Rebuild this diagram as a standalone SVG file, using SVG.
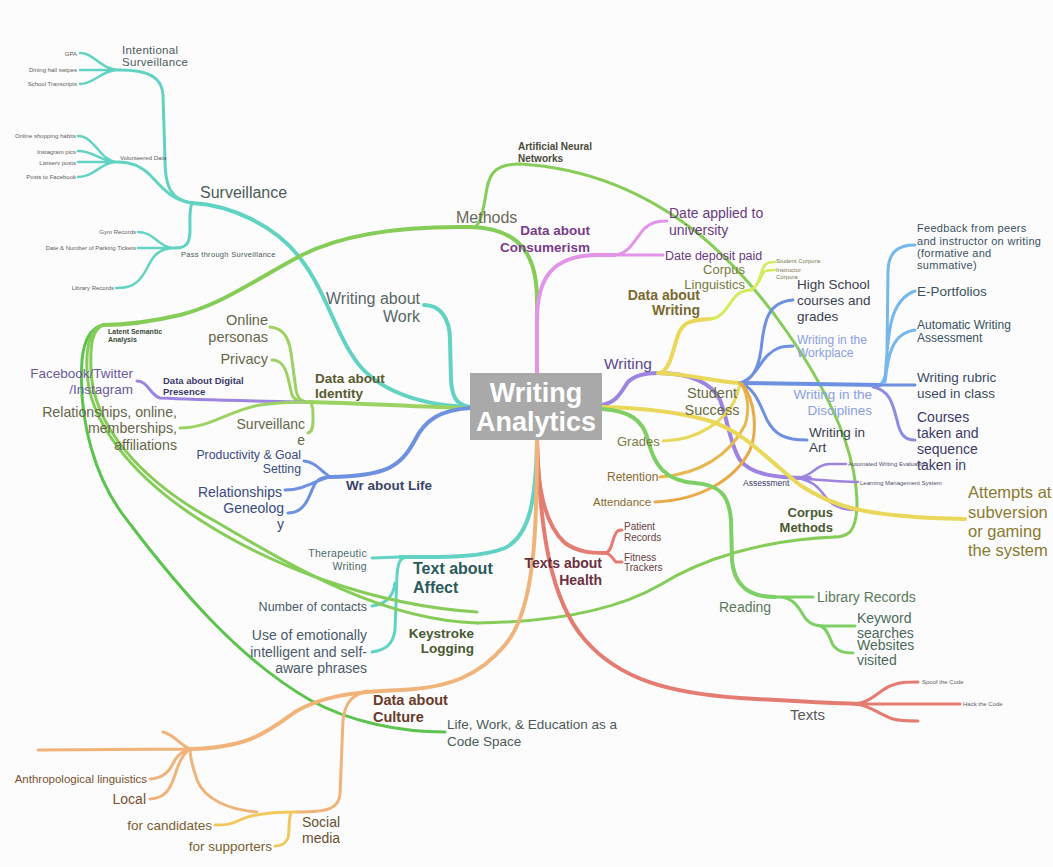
<svg xmlns="http://www.w3.org/2000/svg" width="1053" height="867" viewBox="0 0 1053 867">
<style>
.c{fill:none;stroke-linecap:round;stroke-linejoin:round}
.w4{stroke-width:4}.w3{stroke-width:3}.w2{stroke-width:2.5}
.teal{stroke:#62d3c3}.grn{stroke:#86cc58}.lgrn{stroke:#5cc44e}.igrn{stroke:#9cd262}.rgrn{stroke:#7ed066}
.pur{stroke:#9c84e0}.lil{stroke:#e394e8}.blu{stroke:#6d90e0}.yel{stroke:#e9d85a}.lime{stroke:#d6ea5e}
.org{stroke:#f0b47a}.ret{stroke:#e8b850}.att{stroke:#e8aa48}.red{stroke:#e47c72}.lblu{stroke:#76b8ea}
.cpur{stroke:#8c8ce0}.smy{stroke:#f0c85c}
text{font-family:"Liberation Sans",Arial,sans-serif;fill:#505a5a}
.b{font-weight:bold}.e{text-anchor:end}.m{text-anchor:middle}
.t6{font-size:6px;fill:#606060}
</style>
<rect width="1053" height="867" fill="#fcfcfc"/>
<g id="connectors">
<!-- teal -->
<path class="c w4 teal" d="M192,203 C230,205 275,225 300,258 C325,290 335,330 352,355 C370,385 410,405 470,407"/>
<path class="c w3 teal" d="M192,203 C170,200 165,185 165,160 L163,95 C162,78 150,70 120,70"/>
<path class="c w2 teal" d="M120,70 C100,70 95,53 80,53 M120,70 L80,70 M120,70 C100,70 95,84 80,84"/>
<path class="c w3 teal" d="M192,203 C170,200 160,185 150,175 C140,165 130,162 118,162"/>
<path class="c w2 teal" d="M118,162 C100,162 95,136 78,136 M118,162 C100,162 95,151 78,151 M118,162 L78,162 M118,162 C100,162 95,177 78,177"/>
<path class="c w3 teal" d="M192,203 C189,210 190,220 190,230 C190,244 186,248 175,248"/>
<path class="c w2 teal" d="M175,248 C158,248 155,232 138,232 M175,248 L138,248 M175,248 C157,248 152,258 146,270 C138,285 130,288 116,288"/>
<path class="c w4 teal" d="M470,407 C455,405 452,395 451,380 L450,340 C450,318 440,305 424,305"/>
<path class="c w4 teal" d="M537,440 C536,500 530,535 505,548 C480,558 440,557 400,557"/>
<path class="c w3 teal" d="M400,557 L372,558 M372,606 C385,604 393,598 395,583 M372,652 C385,650 393,645 395,630 L397,575 C398,562 400,558 407,557"/>
<!-- identity -->
<path class="c w4 igrn" d="M470,408 C420,407 360,403 310,402"/>
<path class="c w3 igrn" d="M270,327 C285,328 290,340 292,360 L296,390 C298,400 302,402 310,402"/>
<path class="c w3 igrn" d="M272,360 C280,360 285,365 288,378 L292,395 C295,401 300,402 310,402"/>
<path class="c w3 pur" d="M137,381 C148,381 150,395 160,398 C200,400 260,401 305,402"/>
<path class="c w3 igrn" d="M180,428 C210,428 230,410 260,405 C280,402 300,402 310,402"/>
<path class="c w3 igrn" d="M310,402 C313,405 313,410 313,420 C313,428 312,432 308,433"/>
<!-- life -->
<path class="c w4 blu" d="M470,408 C440,410 425,420 415,440 C400,468 385,476 330,477"/>
<path class="c w3 blu" d="M304,461 C315,462 320,470 330,477 M285,490 C305,490 315,480 330,477 M288,513 C303,513 308,500 312,490 C316,480 320,477 330,477"/>
<!-- methods -->
<path class="c w4 grn" d="M537,373 L537,300 C537,255 520,228 470,227 C400,226 340,235 300,256 C250,283 220,305 180,315 C150,322 120,325 103,325"/>
<path class="c w3 grn" d="M475,227 C482,222 484,205 487,188 C490,172 497,164 520,164"/>
<path class="c w3 grn" d="M520,164 C590,168 650,195 700,235 C760,285 820,370 845,440 C860,485 860,520 850,532 C845,536 840,537 835,537"/>
<path class="c w3 grn" d="M835,537 C760,540 700,560 660,585 C620,608 560,622 477,623"/>
<path class="c w3 lgrn" d="M103,325 C90,328 84,340 82,360 C78,420 95,480 127,520 C180,590 240,660 310,700 C350,722 400,732 445,732"/>
<path class="c w3 grn" d="M103,325 C90,330 86,345 87,370 C88,420 130,475 200,520 C270,565 370,605 477,612"/>
<path class="c w3 grn" d="M103,325 C92,330 90,345 91,370 C93,425 140,480 213,520 C290,565 380,620 477,623"/>
<!-- consumerism -->
<path class="c w4 lil" d="M537,373 L537,320 C537,275 555,256 595,255 L615,255"/>
<path class="c w3 lil" d="M615,255 C630,254 635,238 645,228 C652,222 658,221 667,221 M615,255 L663,255"/>
<!-- writing -->
<path class="c w4 pur" d="M602,405 C618,402 622,390 628,382 C635,375 645,373 658,373 C690,373 712,383 720,400 C728,420 730,445 740,460 C750,473 770,478 810,478"/>
<path class="c w2 pur" d="M795,478 C812,478 815,464 830,464 L846,464 M795,478 C820,480 840,482 858,482 M795,478 C815,480 820,490 828,500 C835,508 845,510 857,510"/>
<path class="c w4 yel" d="M660,373 C670,370 673,350 678,335 C683,322 690,320 710,319"/>
<path class="c w3 lime" d="M710,319 C725,318 730,300 738,294 C742,291 746,290 752,290"/>
<path class="c w2 lime" d="M750,290 C758,288 760,275 763,268 C766,262 770,262 775,262 M750,290 C758,288 761,276 764,272 C766,270 770,270 775,270"/>
<path class="c w4 yel" d="M658,373 C690,374 710,381 740,383"/>
<path class="c w4 blu" d="M740,383 L880,385"/>
<path class="c w3 blu" d="M740,383 C752,380 758,370 761,350 C764,320 768,302 793,300 M740,383 C755,378 760,362 768,355 C775,348 782,346 793,346 M740,383 C755,388 760,405 767,420 C775,435 785,440 807,440"/>
<path class="c w3 lblu" d="M880,385 C886,380 887,370 887,350 L888,270 C889,250 900,245 915,245 M885,380 C888,330 890,300 915,291 M885,382 C888,355 892,333 915,330"/>
<path class="c w3 blu" d="M880,385 L915,385"/>
<path class="c w3 cpur" d="M873,387 C890,390 893,405 897,420 C900,435 905,440 915,440"/>
<path class="c w3 yel" d="M663,441 C700,440 725,420 735,400 C738,392 740,386 740,383"/>
<path class="c w3 ret" d="M660,477 C700,474 730,455 745,425 C750,410 748,392 740,383"/>
<path class="c w3 att" d="M655,502 C700,500 735,480 750,450 C758,430 755,400 742,384"/>
<path class="c w4 yel" d="M602,407 C640,408 680,412 710,421 C745,432 770,462 800,485 C830,505 860,517 965,519"/>
<!-- reading -->
<path class="c w4 rgrn" d="M602,409 C630,411 643,420 648,440 C654,465 665,481 695,483 C720,485 729,495 731,520 L732,560 C734,585 748,597 775,597"/>
<path class="c w3 rgrn" d="M775,597 L813,597 M780,597 C795,598 800,610 805,618 C810,624 815,626 825,626 L855,626 M820,626 C828,628 830,640 833,645 C838,652 845,653 853,653"/>
<!-- health / texts -->
<path class="c w4 red" d="M537,440 C537,490 545,525 565,543 C578,552 590,553 605,553"/>
<path class="c w3 red" d="M605,553 C612,552 612,540 615,535 C617,530 619,530 622,530 M605,553 C612,554 613,560 616,562 L622,562"/>
<path class="c w4 red" d="M537,440 C540,530 550,600 585,640 C620,680 670,693 740,698 C790,701 830,703 860,704"/>
<path class="c w3 red" d="M855,704 C870,703 880,690 890,686 C900,682 905,682 918,682 M860,704 L960,704 M855,704 C870,705 880,715 893,719 C900,721 905,721 918,721"/>
<!-- culture -->
<path class="c w4 org" d="M537,440 C537,530 535,610 505,645 C480,675 450,688 400,690 C350,692 320,697 295,712 C270,730 250,748 190,749"/>
<path class="c w3 org" d="M367,691 C350,695 345,705 343,720 L340,795 C338,808 330,812 297,812"/>
<path class="c w3 org" d="M257,812 C230,810 205,800 197,780 C192,765 190,755 190,749"/>
<path class="c w3 smy" d="M297,812 C270,812 250,815 240,820 C230,825 225,825 215,825 M291,813 C288,820 290,830 288,838 C285,845 280,846 275,846"/>
<path class="c w3 org" d="M190,749 L38,750 M190,749 C180,745 175,735 163,732 M150,779 C165,778 170,770 175,760 C180,752 185,750 190,749 M150,799 C165,798 170,790 175,775 C180,758 185,752 190,749"/>
</g>
<g id="writing-analytics"><rect x="470" y="373" width="132" height="67" fill="#a9a9a9"/><text class="b m" x="536" y="402" font-size="27" style="fill:#fff">Writing</text><text class="b m" x="536" y="431" font-size="27" style="fill:#fff">Analytics</text></g>
<g id="surveillance"><text x="200" y="198" font-size="16" style="fill:#4d5a5a">Surveillance</text></g>
<g id="intentional-surveillance"><text x="122" y="54" font-size="11.5" letter-spacing="0.3" style="fill:#4d5a5a">Intentional</text><text x="122" y="66" font-size="11.5" letter-spacing="0.3" style="fill:#4d5a5a">Surveillance</text></g>
<g id="gpa"><text class="t6 e" x="77" y="56">GPA</text></g>
<g id="dining"><text class="t6 e" x="77" y="72">Dining hall swipes</text></g>
<g id="transcripts"><text class="t6 e" x="77" y="86">School Transcripts</text></g>
<g id="volunteered-data"><text class="t6" x="120" y="160">Volunteered Data</text></g>
<g id="online-shopping"><text class="t6 e" x="76" y="138">Online shopping habits</text></g>
<g id="instagram-pics"><text class="t6 e" x="76" y="154">Instagram pics</text></g>
<g id="listserv"><text class="t6 e" x="76" y="165">Listserv posts</text></g>
<g id="posts-facebook"><text class="t6 e" x="76" y="179">Posts to Facebook</text></g>
<g id="pass-through"><text x="181" y="257" font-size="7.5" letter-spacing="0.3" style="fill:#4d5a5a">Pass through Surveillance</text></g>
<g id="gym"><text class="t6 e" x="136" y="234">Gym Records</text></g>
<g id="parking"><text class="t6 e" x="136" y="250">Date &amp; Number of Parking Tickets</text></g>
<g id="library-surv"><text class="t6 e" x="114" y="290">Library Records</text></g>
<g id="writing-about-work"><text class="e" x="420" y="304" font-size="16" style="fill:#5a6666">Writing about</text><text class="e" x="420" y="322" font-size="16" style="fill:#5a6666">Work</text></g>
<g id="data-identity"><text class="b" x="315" y="383" font-size="13.5" style="fill:#5a5a30">Data about</text><text class="b" x="315" y="398" font-size="13.5" style="fill:#5a5a30">Identity</text></g>
<g id="online-personas"><text class="e" x="268" y="325" font-size="14.5" style="fill:#66664a">Online</text><text class="e" x="268" y="342" font-size="14.5" style="fill:#66664a">personas</text></g>
<g id="privacy"><text class="e" x="268" y="364" font-size="14.5" style="fill:#66664a">Privacy</text></g>
<g id="digital-presence"><text class="b" x="163" y="384" font-size="9.5" style="fill:#3a3a6a">Data about Digital</text><text class="b" x="163" y="395" font-size="9.5" style="fill:#3a3a6a">Presence</text></g>
<g id="facebook-twitter"><text class="e" x="133" y="378" font-size="13.5" style="fill:#6a5a9a">Facebook/Twitter</text><text class="e" x="133" y="394" font-size="13.5" style="fill:#6a5a9a">/Instagram</text></g>
<g id="relationships-online"><text class="e" x="177" y="417" font-size="14.2" style="fill:#66664a">Relationships, online,</text><text class="e" x="177" y="433" font-size="14.2" style="fill:#66664a">memberships,</text><text class="e" x="177" y="450" font-size="14.2" style="fill:#66664a">affiliations</text></g>
<g id="surveillance-identity"><text class="e" x="305" y="429" font-size="14" style="fill:#66664a">Surveillanc</text><text class="e" x="305" y="445" font-size="14" style="fill:#66664a">e</text></g>
<g id="wr-about-life"><text class="b" x="346" y="490" font-size="13.5" style="fill:#3a4466">Wr about Life</text></g>
<g id="productivity"><text class="e" x="301" y="459" font-size="12.3" style="fill:#3a4a80">Productivity &amp; Goal</text><text class="e" x="301" y="473" font-size="12.3" style="fill:#3a4a80">Setting</text></g>
<g id="relationships-life"><text class="e" x="282" y="497" font-size="14" style="fill:#3a4a80">Relationships</text></g>
<g id="geneology"><text class="e" x="284" y="513" font-size="14" style="fill:#3a4a80">Geneolog</text><text class="e" x="284" y="529" font-size="14" style="fill:#3a4a80">y</text></g>
<g id="methods"><text x="456" y="223" font-size="16" style="fill:#6a6a5a">Methods</text></g>
<g id="ann"><text class="b" x="518" y="150" font-size="10" style="fill:#4a4a3a">Artificial Neural</text><text class="b" x="518" y="162" font-size="10" style="fill:#4a4a3a">Networks</text></g>
<g id="lsa"><text class="b" x="108" y="334" font-size="7" style="fill:#3a4a3a">Latent Semantic</text><text class="b" x="108" y="342" font-size="7" style="fill:#3a4a3a">Analysis</text></g>
<g id="data-consumerism"><text class="b e" x="590" y="235" font-size="13.5" style="fill:#7a3a8a">Data about</text><text class="b e" x="590" y="252" font-size="13.5" style="fill:#7a3a8a">Consumerism</text></g>
<g id="date-applied"><text x="669" y="218" font-size="14" style="fill:#6a3a80">Date applied to</text><text x="669" y="235" font-size="14" style="fill:#6a3a80">university</text></g>
<g id="date-deposit"><text x="665" y="260" font-size="12.5" style="fill:#6a3a80">Date deposit paid</text></g>
<g id="writing"><text x="604" y="369" font-size="15.5" style="fill:#5a4a8a">Writing</text></g>
<g id="data-writing"><text class="b e" x="700" y="300" font-size="14" style="fill:#7a6a30">Data about</text><text class="b e" x="700" y="315" font-size="14" style="fill:#7a6a30">Writing</text></g>
<g id="corpus-linguistics"><text class="e" x="745" y="274" font-size="13" style="fill:#7a7a40">Corpus</text><text class="e" x="745" y="289" font-size="13" style="fill:#7a7a40">Linguistics</text></g>
<g id="student-corpora"><text class="t6" x="776" y="263" style="fill:#7a7a50">Student Corpora</text></g>
<g id="instructor-corpora"><text class="t6" x="776" y="272" style="fill:#7a7a50">Instructor</text><text class="t6" x="776" y="279" style="fill:#7a7a50">Corpora</text></g>
<g id="student-success"><text class="m" x="712" y="398" font-size="14.5" style="fill:#6a6a40">Student</text><text class="m" x="712" y="415" font-size="14.5" style="fill:#6a6a40">Success</text></g>
<g id="high-school"><text x="797" y="289" font-size="13.5" style="fill:#3a4050">High School</text><text x="797" y="305" font-size="13.5" style="fill:#3a4050">courses and</text><text x="797" y="321" font-size="13.5" style="fill:#3a4050">grades</text></g>
<g id="workplace"><text x="797" y="344" font-size="12" style="fill:#8a9ee0">Writing in the</text><text x="797" y="357" font-size="12" style="fill:#8a9ee0">Workplace</text></g>
<g id="disciplines"><text class="e" x="872" y="399" font-size="13.5" style="fill:#8a9ee0">Writing in the</text><text class="e" x="872" y="415" font-size="13.5" style="fill:#8a9ee0">Disciplines</text></g>
<g id="writing-art"><text x="809" y="437" font-size="13.5" style="fill:#3a4050">Writing in</text><text x="809" y="452" font-size="13.5" style="fill:#3a4050">Art</text></g>
<g id="feedback"><text x="917" y="232" font-size="11" letter-spacing="0.3" style="fill:#3a5060">Feedback from peers</text><text x="917" y="245" font-size="11" letter-spacing="0.3" style="fill:#3a5060">and instructor on writing</text><text x="917" y="257" font-size="11" letter-spacing="0.3" style="fill:#3a5060">(formative and</text><text x="917" y="269" font-size="11" letter-spacing="0.3" style="fill:#3a5060">summative)</text></g>
<g id="e-portfolios"><text x="917" y="296" font-size="13.5" style="fill:#3a5060">E-Portfolios</text></g>
<g id="automatic-assessment"><text x="917" y="329" font-size="12" style="fill:#3a5060">Automatic Writing</text><text x="917" y="342" font-size="12" style="fill:#3a5060">Assessment</text></g>
<g id="rubric"><text x="917" y="382" font-size="13.5" style="fill:#3a4a60">Writing rubric</text><text x="917" y="398" font-size="13.5" style="fill:#3a4a60">used in class</text></g>
<g id="courses-taken"><text x="917" y="422" font-size="14" style="fill:#3a3a6a">Courses</text><text x="917" y="438" font-size="14" style="fill:#3a3a6a">taken and</text><text x="917" y="454" font-size="14" style="fill:#3a3a6a">sequence</text><text x="917" y="470" font-size="14" style="fill:#3a3a6a">taken in</text></g>
<g id="grades"><text x="617" y="446" font-size="13" style="fill:#7a7a40">Grades</text></g>
<g id="retention"><text x="607" y="481" font-size="12" style="fill:#8a6a30">Retention</text></g>
<g id="attendance"><text x="593" y="506" font-size="11.5" style="fill:#8a6a30">Attendance</text></g>
<g id="assessment"><text x="743" y="486" font-size="8.5" style="fill:#3a3a6a">Assessment</text></g>
<g id="awe"><text class="t6" x="848" y="466" style="fill:#505070">Automated Writing Evaluation</text></g>
<g id="lms"><text class="t6" x="860" y="485" style="fill:#505070">Learning Management System</text></g>
<g id="corpus-methods"><text class="b e" x="833" y="517" font-size="13" style="fill:#4a5a30">Corpus</text><text class="b e" x="833" y="532" font-size="13" style="fill:#4a5a30">Methods</text></g>
<g id="attempts"><text x="968" y="498" font-size="16.5" style="fill:#8a7a30">Attempts at</text><text x="968" y="518" font-size="16.5" style="fill:#8a7a30">subversion</text><text x="968" y="537" font-size="16.5" style="fill:#8a7a30">or gaming</text><text x="968" y="556" font-size="16.5" style="fill:#8a7a30">the system</text></g>
<g id="reading"><text x="719" y="612" font-size="14" style="fill:#5a7a5a">Reading</text></g>
<g id="library-records"><text x="817" y="602" font-size="14" style="fill:#5a7a5a">Library Records</text></g>
<g id="keyword"><text x="857" y="623" font-size="14" style="fill:#4a6a5a">Keyword</text><text x="857" y="638" font-size="14" style="fill:#4a6a5a">searches</text></g>
<g id="websites"><text x="857" y="650" font-size="14" style="fill:#4a6a5a">Websites</text><text x="857" y="665" font-size="14" style="fill:#4a6a5a">visited</text></g>
<g id="texts-health"><text class="b e" x="602" y="568" font-size="14" style="fill:#6a3040">Texts about</text><text class="b e" x="602" y="585" font-size="14" style="fill:#6a3040">Health</text></g>
<g id="patient-records"><text x="624" y="530" font-size="10" style="fill:#6a4040">Patient</text><text x="624" y="541" font-size="10" style="fill:#6a4040">Records</text></g>
<g id="fitness"><text x="624" y="561" font-size="10" style="fill:#6a4040">Fitness</text><text x="624" y="571" font-size="10" style="fill:#6a4040">Trackers</text></g>
<g id="texts"><text x="790" y="720" font-size="15" style="fill:#5a5a5a">Texts</text></g>
<g id="spoof"><text class="t6" x="922" y="684">Spoof the Code</text></g>
<g id="hack"><text class="t6" x="963" y="706">Hack the Code</text></g>
<g id="text-affect"><text class="b" x="413" y="574" font-size="16" style="fill:#2a5a5a">Text about</text><text class="b" x="413" y="593" font-size="16" style="fill:#2a5a5a">Affect</text></g>
<g id="therapeutic"><text class="e" x="367" y="557" font-size="10.5" letter-spacing="0.3" style="fill:#4a6a6a">Therapeutic</text><text class="e" x="367" y="570" font-size="10.5" letter-spacing="0.3" style="fill:#4a6a6a">Writing</text></g>
<g id="contacts"><text class="e" x="367" y="611" font-size="12.5" style="fill:#4a5a6a">Number of contacts</text></g>
<g id="emotional"><text class="e" x="367" y="640" font-size="14" style="fill:#4a5a6a">Use of emotionally</text><text class="e" x="367" y="657" font-size="14" style="fill:#4a5a6a">intelligent and self-</text><text class="e" x="367" y="673" font-size="14" style="fill:#4a5a6a">aware phrases</text></g>
<g id="keystroke"><text class="b e" x="474" y="638" font-size="13.5" style="fill:#4a5a30">Keystroke</text><text class="b e" x="474" y="653" font-size="13.5" style="fill:#4a5a30">Logging</text></g>
<g id="data-culture"><text class="b" x="373" y="705" font-size="14.5" style="fill:#6a3a2a">Data about</text><text class="b" x="373" y="722" font-size="14.5" style="fill:#6a3a2a">Culture</text></g>
<g id="code-space"><text x="447" y="729" font-size="13.5" style="fill:#4a5a5a">Life, Work, &amp; Education as a</text><text x="447" y="746" font-size="13.5" style="fill:#4a5a5a">Code Space</text></g>
<g id="anthropological"><text class="e" x="147" y="783" font-size="11.5" style="fill:#7a5030">Anthropological linguistics</text></g>
<g id="local"><text class="e" x="146" y="804" font-size="14" style="fill:#7a5030">Local</text></g>
<g id="social-media"><text x="302" y="827" font-size="14" style="fill:#6a5030">Social</text><text x="302" y="843" font-size="14" style="fill:#6a5030">media</text></g>
<g id="candidates"><text class="e" x="212" y="830" font-size="13.5" style="fill:#7a6030">for candidates</text></g>
<g id="supporters"><text class="e" x="272" y="851" font-size="13.5" style="fill:#7a6030">for supporters</text></g>
</svg>
